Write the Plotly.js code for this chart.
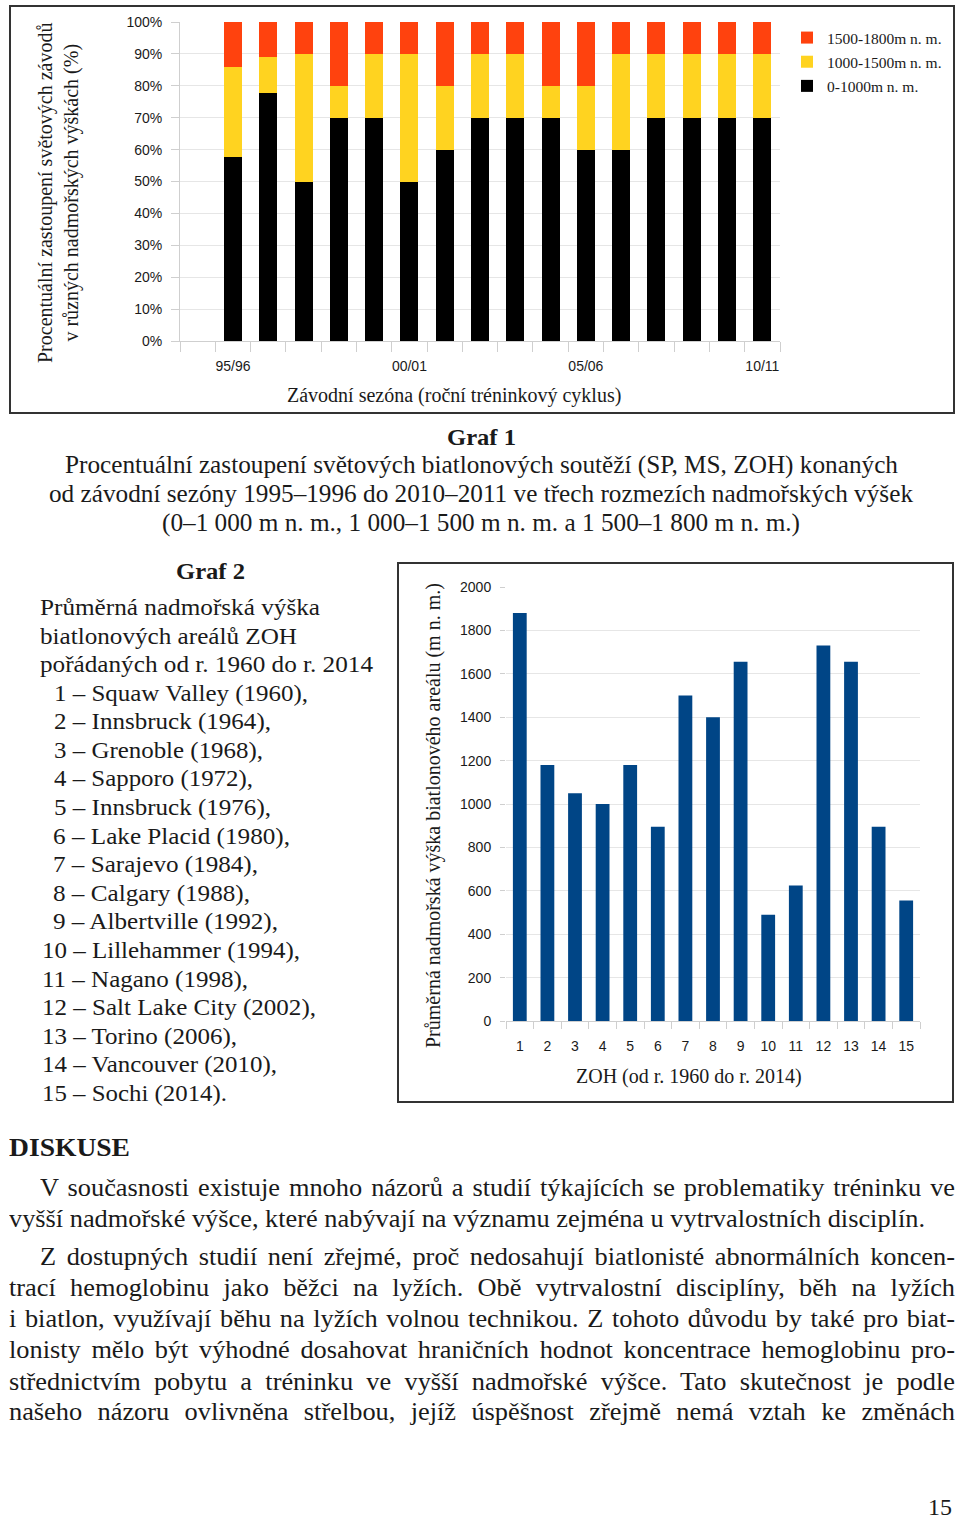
<!DOCTYPE html>
<html><head><meta charset="utf-8">
<script src="https://cdn.plot.ly/plotly-3.0.1.min.js"></script>
<style>
html,body{margin:0;padding:0;background:#fff;}
#page{position:relative;width:960px;height:1520px;overflow:hidden;background:#fff;}
.ln{position:absolute;white-space:nowrap;font-family:"Liberation Serif","Times New Roman",serif;color:#1a1a1a;transform-origin:0 0;line-height:1;}
#c1{position:absolute;left:0;top:0;width:960px;height:420px;}
#c2{position:absolute;left:390px;top:555px;width:570px;height:555px;}
</style></head>
<body><div id="page"><div id="c1"></div><div id="c2"></div></div>
<script>
// ---------- DATA: Graf 1 ----------
const seasons = ['95/96','96/97','97/98','98/99','99/00','00/01','01/02','02/03','03/04','04/05','05/06','06/07','07/08','08/09','09/10','10/11'];
const seasonTickLabels = ['95/96','00/01','05/06','10/11'];
const pctLow  = [57.7, 77.8, 50, 70, 70, 50, 60, 70, 70, 70, 60, 60, 70, 70, 70, 70];   // 0-1000 m n. m.
const pctMid  = [28.2, 11.1, 40, 10, 20, 40, 20, 20, 20, 10, 20, 30, 20, 20, 20, 20];   // 1000-1500 m n. m.
const pctHigh = [14.1, 11.1, 10, 20, 10, 10, 20, 10, 10, 20, 20, 10, 10, 10, 10, 10];   // 1500-1800 m n. m.
const seriesNames = ['0-1000m n. m.', '1000-1500m n. m.', '1500-1800m n. m.'];

// ---------- DATA: Graf 2 ----------
const games = [1,2,3,4,5,6,7,8,9,10,11,12,13,14,15];
const altitude = [1880, 1180, 1050, 1000, 1180, 895, 1500, 1400, 1655, 490, 625, 1730, 1655, 895, 555];

const SANS = 'Liberation Sans, Arial, sans-serif';
const SERIF = 'Liberation Serif, Times New Roman, serif';
const INK = '#1a1a1a';
const GRID = '#e6e6e6';
const AXL = '#cfcfcf';

// ---------- Chart 1 ----------
const sIdx = seasons.map((s,i)=>i);
const tr1 = [
  {type:'bar', x:sIdx, y:pctLow,  name:seriesNames[0], legendgroup:'a', legendrank:3, marker:{color:'#000000'}},
  {type:'bar', x:sIdx, y:pctMid,  name:seriesNames[1], legendgroup:'b', legendrank:2, marker:{color:'#ffd320'}},
  {type:'bar', x:sIdx, y:pctHigh, name:seriesNames[2], legendgroup:'c', legendrank:1, marker:{color:'#ff420e'}}
];
const L1 = 180, R1 = 780, T1 = 22, B1 = 341;
const px1 = x => (x - L1)/(R1 - L1), py1 = y => (B1 - y)/(B1 - T1);
const lay1 = {
  width:960, height:420, margin:{l:L1, r:960-R1, t:T1, b:420-B1, pad:0},
  paper_bgcolor:'rgba(0,0,0,0)', plot_bgcolor:'rgba(0,0,0,0)',
  barmode:'stack', bargap:0.49,
  showlegend:true,
  legend:{x:px1(787), xanchor:'left', y:py1(21), yanchor:'top', traceorder:'grouped', tracegroupgap:1,
          font:{family:SERIF, size:15.5, color:INK}, bgcolor:'rgba(0,0,0,0)', itemwidth:30},
  font:{family:SANS, color:INK},
  xaxis:{range:[-1.5, seasons.length-0.5], tickmode:'array',
         tickvals:seasonTickLabels.map(s=>seasons.indexOf(s)), ticktext:seasonTickLabels,
         ticks:'', showgrid:false, zeroline:false, showline:true, linecolor:AXL, linewidth:1,
         tickfont:{family:SANS, size:14, color:INK}, ticklabelstandoff:12,
         minor:{tick0:0.5, dtick:1, ticks:'outside', ticklen:10, tickcolor:AXL, tickwidth:1, showgrid:false}},
  yaxis:{range:[0,100], dtick:10, ticksuffix:'%', ticks:'outside', ticklen:8, tickcolor:AXL,
         gridcolor:GRID, showline:true, linecolor:AXL, zeroline:false,
         tickfont:{family:SANS, size:14, color:INK}, ticklabelstandoff:6},
  annotations:[
    {text:'Procentuální zastoupení světových závodů<br>v různých nadmořských výškách (%)', textangle:-90,
     xref:'paper', yref:'paper', x:px1(58), y:py1(193), xanchor:'center', yanchor:'middle', showarrow:false,
     font:{family:SERIF, size:20, color:INK}},
    {text:'Závodní sezóna (roční tréninkový cyklus)', xref:'paper', yref:'paper', x:px1(454), y:py1(395),
     xanchor:'center', yanchor:'middle', showarrow:false, font:{family:SERIF, size:20, color:INK}}
  ],
  shapes:[{type:'rect', xref:'paper', yref:'paper', x0:px1(10), x1:px1(954), y0:py1(413), y1:py1(6),
           line:{color:'#333', width:2}, fillcolor:'rgba(0,0,0,0)', layer:'below'}]
};
Plotly.newPlot('c1', tr1, lay1, {displayModeBar:false, responsive:false});

// ---------- Chart 2 ----------
const OX = 390, OY = 555;
const L2 = 506, R2 = 920, T2 = 587, B2 = 1021;
const px2 = x => (x - L2)/(R2 - L2), py2 = y => (B2 - y)/(B2 - T2);
const tr2 = [{type:'bar', x:games, y:altitude, marker:{color:'#004586'}, showlegend:false}];
const lay2 = {
  width:570, height:555, margin:{l:L2-OX, r:OX+570-R2, t:T2-OY, b:OY+555-B2, pad:0},
  paper_bgcolor:'rgba(0,0,0,0)', plot_bgcolor:'rgba(0,0,0,0)',
  bargap:0.5, showlegend:false, font:{family:SANS, color:INK},
  xaxis:{range:[0.5, games.length+0.5], tickmode:'array', tickvals:games, ticktext:games.map(String),
         ticks:'', showgrid:false, zeroline:false, showline:true, linecolor:AXL,
         tickfont:{family:SANS, size:14, color:INK}, ticklabelstandoff:12,
         minor:{tick0:0.5, dtick:1, ticks:'outside', ticklen:7, tickcolor:AXL, showgrid:false}},
  yaxis:{range:[0,2000], dtick:200, ticks:'outside', ticklen:5, tickcolor:AXL, gridcolor:GRID,
         showline:false, zeroline:false, tickfont:{family:SANS, size:14, color:INK}, ticklabelstandoff:6},
  annotations:[
    {text:'Průměrná nadmořská výška biatlonového areálu (m n. m.)', textangle:-90, xref:'paper', yref:'paper',
     x:px2(433), y:py2(816), xanchor:'center', yanchor:'middle', showarrow:false, font:{family:SERIF, size:20, color:INK}},
    {text:'ZOH (od r. 1960 do r. 2014)', xref:'paper', yref:'paper', x:px2(689), y:py2(1076),
     xanchor:'center', yanchor:'middle', showarrow:false, font:{family:SERIF, size:20, color:INK}}
  ],
  shapes:[{type:'rect', xref:'paper', yref:'paper', x0:px2(398), x1:px2(953), y0:py2(1102), y1:py2(563),
           line:{color:'#333', width:2}, fillcolor:'rgba(0,0,0,0)', layer:'below'}]
};
Plotly.newPlot('c2', tr2, lay2, {displayModeBar:false, responsive:false});

// ---------- Page text ----------
const page = document.getElementById('page');
function measure(txt, size, bold){
  const d = document.createElement('div');
  d.className = 'ln'; d.textContent = txt; d.style.fontSize = size + 'px';
  if (bold) d.style.fontWeight = 'bold';
  page.appendChild(d);
  const w = d.getBoundingClientRect().width;
  page.removeChild(d);
  return w;
}
function place(txt, x1, x2, yc, size, opt){
  opt = opt || {};
  const d = document.createElement('div');
  d.className = 'ln'; d.textContent = txt;
  d.style.fontSize = size + 'px';
  if (opt.bold) d.style.fontWeight = 'bold';
  page.appendChild(d);
  const w = d.getBoundingClientRect().width;
  d.style.left = x1 + 'px';
  d.style.top = (yc - 0.56*size) + 'px';
  const target = x2 - x1;
  const cond = opt.cond || 0;
  if (opt.justify && cond && w*cond < target) {
    const n = (txt.match(/ /g) || []).length || 1;
    d.style.wordSpacing = ((target/cond - w)/n) + 'px';
    d.style.transform = 'scaleX(' + cond + ')';
  } else {
    d.style.transform = 'scaleX(' + (target / w) + ')';
  }
}
// Graf 1 caption
place('Graf 1', 447, 516, 438, 24, {bold:true});
place('Procentuální zastoupení světových biatlonových soutěží (SP, MS, ZOH) konaných', 65, 898, 466, 25);
place('od závodní sezóny 1995–1996 do 2010–2011 ve třech rozmezích nadmořských výšek', 49, 913, 495, 25);
place('(0–1 000 m n. m., 1 000–1 500 m n. m. a 1 500–1 800 m n. m.)', 162, 800, 524, 25);
// Graf 2 caption
place('Graf 2', 176, 245, 572, 24, {bold:true});
place('Průměrná nadmořská výška', 40, 320, 608, 24);
place('biatlonových areálů ZOH', 40, 297, 637, 24);
place('pořádaných od r. 1960 do r. 2014', 40, 373, 665, 24);
const venues = [
  ['1 – Squaw Valley (1960),', 54, 308], ['2 – Innsbruck (1964),', 54, 271], ['3 – Grenoble (1968),', 54, 263],
  ['4 – Sapporo (1972),', 54, 253], ['5 – Innsbruck (1976),', 54, 271], ['6 – Lake Placid (1980),', 53, 290],
  ['7 – Sarajevo (1984),', 53, 258], ['8 – Calgary (1988),', 53, 250], ['9 – Albertville (1992),', 53, 278],
  ['10 – Lillehammer (1994),', 42, 300], ['11 – Nagano (1998),', 42, 248], ['12 – Salt Lake City (2002),', 42, 316],
  ['13 – Torino (2006),', 42, 237], ['14 – Vancouver (2010),', 42, 277], ['15 – Sochi (2014).', 42, 227]
];
venues.forEach((v,i)=>place(v[0], v[1], v[2], 694 + i*28.6, 24));
// DISKUSE
place('DISKUSE', 9, 130, 1150, 26, {bold:true});
const refLine = 'vyšší nadmořské výšce, které nabývají na významu zejména u vytrvalostních disciplín.';
const cond0 = 916 / measure(refLine, 26);
const J = {justify:true, cond:cond0};
place('V současnosti existuje mnoho názorů a studií týkajících se problematiky tréninku ve', 40, 955, 1190, 26, J);
place(refLine, 9, 925, 1221, 26);
place('Z dostupných studií není zřejmé, proč nedosahují biatlonisté abnormálních koncen-', 40, 955, 1259, 26, J);
place('trací hemoglobinu jako běžci na lyžích. Obě vytrvalostní disciplíny, běh na lyžích', 9, 955, 1290, 26, J);
place('i biatlon, využívají běhu na lyžích volnou technikou. Z tohoto důvodu by také pro biat-', 9, 955, 1321, 26, J);
place('lonisty mělo být výhodné dosahovat hraničních hodnot koncentrace hemoglobinu pro-', 9, 955, 1352, 26, J);
place('střednictvím pobytu a tréninku ve vyšší nadmořské výšce. Tato skutečnost je podle', 9, 955, 1384, 26, J);
place('našeho názoru ovlivněna střelbou, jejíž úspěšnost zřejmě nemá vztah ke změnách', 9, 955, 1414, 26, J);
place('15', 928, 952, 1508, 24);
</script>
</body></html>
